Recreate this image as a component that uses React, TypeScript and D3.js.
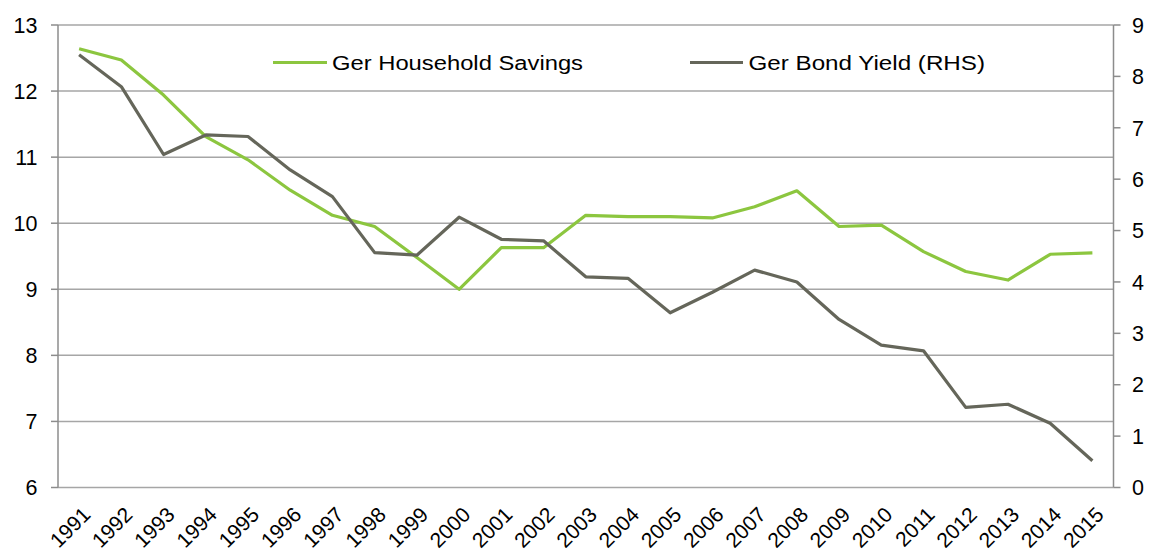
import React from "react";
import * as d3 from "d3";

const years = [
  "1991","1992","1993","1994","1995","1996","1997","1998","1999","2000",
  "2001","2002","2003","2004","2005","2006","2007","2008","2009","2010",
  "2011","2012","2013","2014","2015",
];
const householdSavings = [
  12.64, 12.47, 11.94, 11.31, 10.96, 10.5, 10.12, 9.95, 9.48, 9.0,
  9.63, 9.63, 10.12, 10.1, 10.1, 10.08, 10.25, 10.49, 9.95, 9.97,
  9.57, 9.27, 9.14, 9.53, 9.55,
];
const bondYield = [
  8.42, 7.8, 6.48, 6.86, 6.83, 6.18, 5.66, 4.57, 4.52, 5.26,
  4.83, 4.8, 4.1, 4.07, 3.4, 3.8, 4.23, 4.0, 3.27, 2.77,
  2.66, 1.56, 1.62, 1.25, 0.52,
];
const leftTicks = [6, 7, 8, 9, 10, 11, 12, 13];
const rightTicks = [0, 1, 2, 3, 4, 5, 6, 7, 8, 9];
const seriesNames = ["Ger Household Savings", "Ger Bond Yield (RHS)"];

const W = 1151;
const H = 554;
const M = { left: 58, right: 1113.5, top: 25, bottom: 487.5 };
const GREEN = "#8CC63F";
const DARK = "#65665A";
const GRID = "#A6A6A6";
const AXIS = "#8C8C8C";
const FONT = "Liberation Sans, Arial, sans-serif";
const TICK_FS = 21.5;

export default function App() {
  const x = d3.scaleBand<string>().domain(years).range([M.left, M.right]);
  const yL = d3.scaleLinear().domain([6, 13]).range([M.bottom, M.top]);
  const yR = d3.scaleLinear().domain([0, 9]).range([M.bottom, M.top]);
  const cx = (d: string) => (x(d) as number) + x.bandwidth() / 2;

  const lineL = d3
    .line<number>()
    .x((_, i) => cx(years[i]))
    .y((v) => yL(v));
  const lineR = d3
    .line<number>()
    .x((_, i) => cx(years[i]))
    .y((v) => yR(v));

  return (
    <svg
      width={W}
      height={H}
      style={{ position: "absolute", left: 0, top: 0, background: "#fff" }}
      fontFamily={FONT}
    >
      <rect x={0} y={0} width={W} height={H} fill="#fff" />
      {/* gridlines */}
      {leftTicks.map((t) => (
        <line
          key={"g" + t}
          x1={M.left}
          x2={M.right}
          y1={yL(t)}
          y2={yL(t)}
          stroke={GRID}
          strokeWidth={1.5}
        />
      ))}
      {/* left axis */}
      <line x1={M.left} x2={M.left} y1={M.top} y2={M.bottom} stroke={AXIS} strokeWidth={1.5} />
      {leftTicks.map((t) => (
        <g key={"l" + t}>
          <line x1={M.left - 7} x2={M.left} y1={yL(t)} y2={yL(t)} stroke={AXIS} strokeWidth={1.5} />
          <text x={37.5} y={yL(t)} dy="0.36em" textAnchor="end" fontSize={TICK_FS} fill="#000">
            {t}
          </text>
        </g>
      ))}
      {/* right axis */}
      <line x1={M.right} x2={M.right} y1={M.top} y2={M.bottom} stroke={AXIS} strokeWidth={1.5} />
      {rightTicks.map((t) => (
        <g key={"r" + t}>
          <line x1={M.right} x2={M.right + 7} y1={yR(t)} y2={yR(t)} stroke={AXIS} strokeWidth={1.5} />
          <text x={M.right + 18.5} y={yR(t)} dy="0.36em" textAnchor="start" fontSize={TICK_FS} fill="#000">
            {t}
          </text>
        </g>
      ))}
      {/* x labels */}
      {years.map((yr) => (
        <text
          key={"x" + yr}
          transform={`translate(${cx(yr) + 2},${M.bottom + 18}) rotate(-45)`}
          textAnchor="end"
          dy="0.71em"
          fontSize={21}
          fill="#000"
        >
          {yr}
        </text>
      ))}
      {/* series */}
      <path d={lineL(householdSavings) || ""} fill="none" stroke={GREEN} strokeWidth={3.2} strokeLinejoin="round" />
      <path d={lineR(bondYield) || ""} fill="none" stroke={DARK} strokeWidth={3.2} strokeLinejoin="round" />
      {/* legend */}
      <line x1={273} x2={327} y1={62.5} y2={62.5} stroke={GREEN} strokeWidth={3.2} />
      <text x={332} y={69.5} fontSize={20} fill="#000" textLength={251} lengthAdjust="spacingAndGlyphs">
        {seriesNames[0]}
      </text>
      <line x1={690} x2={743} y1={62.5} y2={62.5} stroke={DARK} strokeWidth={3.2} />
      <text x={748.5} y={69.5} fontSize={20} fill="#000" textLength={236.5} lengthAdjust="spacingAndGlyphs">
        {seriesNames[1]}
      </text>
    </svg>
  );
}
